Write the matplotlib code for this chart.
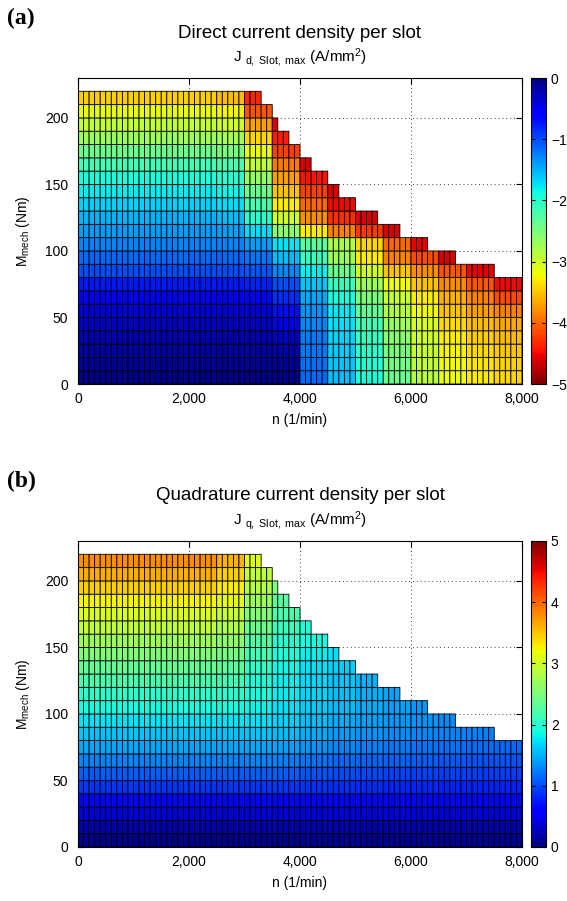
import numpy as np
import matplotlib
matplotlib.use('Agg')
import matplotlib.pyplot as plt
from matplotlib.ticker import FuncFormatter

plt.rcParams['font.family'] = ['Liberation Sans', 'DejaVu Sans']
plt.rcParams['mathtext.fontset'] = 'custom'
plt.rcParams['mathtext.rm'] = 'Liberation Sans'
plt.rcParams['mathtext.it'] = 'Liberation Sans:italic'

# grid of operating points: 100 rpm x 10 Nm cells
speed_edges = np.arange(0, 8001, 100)
torque_edges = np.arange(0, 221, 10)

# maximum speed reached in each torque row (0-10 Nm ... 210-220 Nm)
n_max = [8000, 8000, 8000, 8000, 8000, 8000, 8000, 8000, 7500, 6800, 6300,
         5800, 5400, 5000, 4700, 4500, 4200, 4000, 3800, 3600, 3500, 3300]

# J_d per row: value below 2500 rpm, then values per 500 rpm block from 2500 rpm
jd_base = [-0.05, -0.1, -0.17, -0.23, -0.31, -0.4, -0.52, -0.75, -1.0, -1.15, -1.28,
           -1.4, -1.52, -1.65, -1.78, -1.92, -2.15, -2.42, -2.68, -2.92, -3.15, -3.45]
jd_fw = [
    [-0.05, -0.05, -0.05, -1.15, -1.55, -1.94, -2.4, -2.87, -3.2, -3.3, -3.4],
    [-0.1, -0.1, -0.1, -1.18, -1.6, -1.97, -2.45, -2.9, -3.22, -3.33, -3.43],
    [-0.17, -0.17, -0.2, -1.22, -1.63, -2.02, -2.5, -2.95, -3.26, -3.38, -3.48],
    [-0.23, -0.23, -0.3, -1.25, -1.67, -2.08, -2.58, -3.0, -3.3, -3.45, -3.55],
    [-0.31, -0.31, -0.5, -1.3, -1.72, -2.15, -2.68, -3.05, -3.38, -3.55, -3.65],
    [-0.4, -0.4, -0.7, -1.35, -1.77, -2.35, -2.85, -3.2, -3.5, -3.7, -3.85],
    [-0.52, -0.55, -0.85, -1.45, -1.9, -2.5, -2.95, -3.3, -3.6, -3.85, -4.15],
    [-0.75, -0.8, -1.0, -1.6, -2.1, -2.7, -3.2, -3.5, -3.8, -4.1, -4.5],
    [-1.0, -1.05, -1.3, -1.8, -2.4, -3.0, -3.5, -3.8, -4.1, -4.55],
    [-1.15, -1.2, -1.55, -2.1, -2.7, -3.3, -3.85, -4.15, -4.6],
    [-1.28, -1.4, -1.75, -2.3, -2.8, -3.4, -4.0, -4.55],
    [-1.42, -1.7, -2.6, -3.3, -3.85, -4.25, -4.6],
    [-1.55, -2.0, -3.0, -3.8, -4.3, -4.6],
    [-1.7, -2.2, -3.3, -4.0, -4.5],
    [-1.85, -2.4, -3.5, -4.2, -4.6],
    [-2.0, -2.65, -3.7, -4.45],
    [-2.2, -2.9, -3.9, -4.6],
    [-2.5, -3.15, -4.2],
    [-2.75, -3.4, -4.4],
    [-3.0, -3.7, -4.6],
    [-3.25, -4.1],
    [-3.55, -4.35],
]

# J_q per row, same layout
jq_base = [0.07, 0.2, 0.4, 0.65, 0.88, 1.08, 1.27, 1.45, 1.6, 1.75, 1.88,
           2.02, 2.2, 2.36, 2.52, 2.7, 2.9, 3.08, 3.25, 3.45, 3.62, 3.8]
jq_fw = [
    [0.07, 0.07, 0.07, 0.08, 0.08, 0.08, 0.08, 0.08, 0.08, 0.08, 0.08],
    [0.2, 0.2, 0.2, 0.2, 0.2, 0.2, 0.2, 0.2, 0.2, 0.2, 0.2],
    [0.4, 0.4, 0.4, 0.42, 0.42, 0.42, 0.42, 0.42, 0.42, 0.42, 0.42],
    [0.65, 0.65, 0.65, 0.66, 0.66, 0.66, 0.66, 0.66, 0.66, 0.66, 0.66],
    [0.88, 0.88, 0.88, 0.86, 0.84, 0.83, 0.82, 0.81, 0.8, 0.8, 0.8],
    [1.08, 1.08, 1.08, 1.04, 1.0, 0.98, 0.96, 0.95, 0.94, 0.93, 0.93],
    [1.27, 1.27, 1.26, 1.2, 1.15, 1.12, 1.1, 1.08, 1.06, 1.05, 1.05],
    [1.45, 1.45, 1.42, 1.35, 1.3, 1.25, 1.22, 1.2, 1.18, 1.16, 1.15],
    [1.6, 1.6, 1.55, 1.47, 1.4, 1.35, 1.32, 1.3, 1.27, 1.25],
    [1.75, 1.73, 1.65, 1.56, 1.48, 1.42, 1.38, 1.35, 1.32],
    [1.88, 1.83, 1.73, 1.63, 1.55, 1.48, 1.42, 1.38],
    [2.0, 1.9, 1.78, 1.67, 1.58, 1.5, 1.43],
    [2.15, 1.95, 1.8, 1.68, 1.6, 1.52],
    [2.3, 2.05, 1.85, 1.73, 1.65],
    [2.45, 2.15, 1.92, 1.8, 1.72],
    [2.6, 2.25, 2.0, 1.88],
    [2.8, 2.4, 2.1, 1.95],
    [2.95, 2.55, 2.2],
    [3.15, 2.7, 2.3],
    [3.3, 2.85, 2.5],
    [3.45, 2.9],
    [3.6, 3.1],
]


def build(base, fw):
    z = np.full((len(torque_edges) - 1, len(speed_edges) - 1), np.nan)
    for i in range(z.shape[0]):
        blocks = [base[i]] * 5 + fw[i]
        vals = np.repeat(blocks, 5)
        ncell = n_max[i] // 100
        z[i, :ncell] = vals[:ncell]
    return np.ma.masked_invalid(z)


W, H = 567, 901
fig = plt.figure(figsize=(W / 100, H / 100), dpi=100)


def panel(top, data, cmap, vmin, vmax, letter, title, sub, cticks):
    ax = fig.add_axes([78 / W, 1 - (top + 306) / H, 444 / W, 306 / H])
    cax = fig.add_axes([531 / W, 1 - (top + 306) / H, 15 / W, 306 / H])
    pc = ax.pcolor(speed_edges, torque_edges, data, cmap=cmap, vmin=vmin, vmax=vmax,
                   edgecolors='k', linewidth=0.6)
    ax.set_xlim(0, 8000)
    ax.set_ylim(0, 230)
    ax.set_xticks([0, 2000, 4000, 6000, 8000])
    ax.set_yticks([0, 50, 100, 150, 200])
    ax.xaxis.set_major_formatter(FuncFormatter(lambda v, p: f'{int(v):,}'))
    ax.tick_params(direction='in', top=True, right=True, length=4, labelsize=10)
    ax.tick_params(axis='y', pad=7)
    ax.tick_params(axis='x', pad=6)
    ax.set_axisbelow(True)
    ax.grid(True, linestyle=(0, (1, 3)), color='0.25', linewidth=0.7)
    ax.set_xlabel('n (1/min)', fontsize=10, labelpad=5)
    ax.set_ylabel(r'M$_{\mathrm{mech}}$ (Nm)', fontsize=10, labelpad=9)
    cb = fig.colorbar(pc, cax=cax, ticks=cticks)
    cb.outline.set_linewidth(0.8)
    cax.tick_params(direction='in', left=True, right=True, length=3, labelsize=10)
    fig.text(300 / W, 1 - (top - 45) / H, title, ha='center', va='center', fontsize=13.5)
    fig.text(300 / W, 1 - (top - 20) / H, sub, ha='center', va='center', fontsize=11)
    fig.text(7 / W, 1 - (top - 60) / H, letter, ha='left', va='center', fontsize=17,
             fontweight='bold', family='Liberation Serif')
    return ax


panel(78, build(jd_base, jd_fw), 'jet_r', -5, 0, '(a)',
      'Direct current density per slot',
      r'J $_{\mathrm{d,\ Slot,\ max}}$ (A/mm$^2$)', [-5, -4, -3, -2, -1, 0])
panel(541, build(jq_base, jq_fw), 'jet', 0, 5, '(b)',
      'Quadrature current density per slot',
      r'J $_{\mathrm{q,\ Slot,\ max}}$ (A/mm$^2$)', [0, 1, 2, 3, 4, 5])

fig.savefig('out.png', dpi=100)
